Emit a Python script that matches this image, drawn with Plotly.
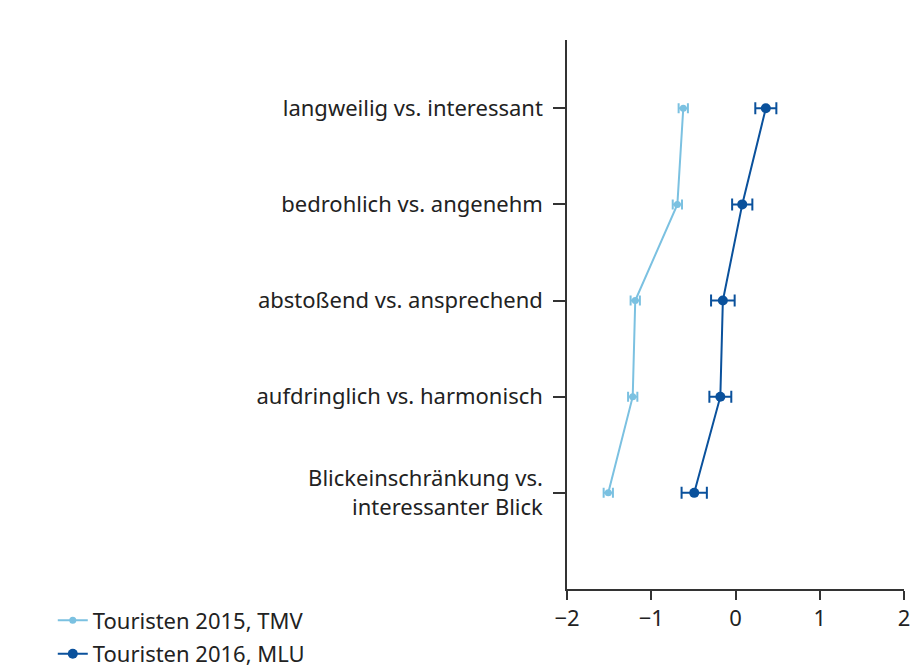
import plotly.graph_objects as go

categories = ["Blickeinschränkung vs.<br>interessanter Blick",
              "aufdringlich vs. harmonisch",
              "abstoßend vs. ansprechend",
              "bedrohlich vs. angenehm",
              "langweilig vs. interessant"]
tmv_2015 = [-1.51, -1.22, -1.19, -0.69, -0.62]
tmv_2015_err = [0.055, 0.055, 0.055, 0.055, 0.055]
mlu_2016 = [-0.49, -0.18, -0.15, 0.08, 0.36]
mlu_2016_err = [0.15, 0.13, 0.14, 0.12, 0.125]
x_ticks = [-2, -1, 0, 1, 2]
x_tick_labels = ["\u22122", "\u22121", "0", "1", "2"]

light = "#7bc1e1"
dark = "#0a519c"

fig = go.Figure()
fig.add_trace(go.Scatter(
    x=tmv_2015, y=categories, mode="lines+markers", name="Touristen 2015, TMV",
    legendgroup="a",
    line=dict(color=light, width=2), marker=dict(color=light, size=7),
    error_x=dict(type="data", array=tmv_2015_err, color=light, thickness=2, width=5),
))
fig.add_trace(go.Scatter(
    x=mlu_2016, y=categories, mode="lines+markers", name="Touristen 2016, MLU",
    legendgroup="b",
    line=dict(color=dark, width=2), marker=dict(color=dark, size=10),
    error_x=dict(type="data", array=mlu_2016_err, color=dark, thickness=2, width=6),
))

fig.update_layout(
    width=910, height=669,
    margin=dict(l=567, r=6, t=40, b=80, autoexpand=False),
    paper_bgcolor="white", plot_bgcolor="white",
    font=dict(family="Noto Sans", size=22, color="#222222"),
    showlegend=True,
    legend=dict(xref="container", yref="container", x=0.058, y=0.104,
                xanchor="left", yanchor="top",
                font=dict(size=22), tracegroupgap=2,
                bgcolor="rgba(0,0,0,0)"),
    xaxis=dict(range=[-2, 2], tickvals=x_ticks, ticktext=x_tick_labels,
               showgrid=False, zeroline=False, showline=True, linecolor="#333333",
               linewidth=1.5, ticks="outside", ticklen=9, tickcolor="#333333",
               tickwidth=1.5, tickfont=dict(size=22), automargin=False,
               ticklabeloverflow="allow"),
    yaxis=dict(type="category", categoryorder="array", categoryarray=categories,
               range=[-1, 4.71], showgrid=False, zeroline=False, showline=True,
               linecolor="#333333", linewidth=1.5, ticks="outside", ticklen=12,
               tickcolor="#333333", tickwidth=1.5, tickfont=dict(size=22),
               ticklabelstandoff=6, automargin=False),
)

fig.write_html("out.html", config={"displayModeBar": False},
               post_script="document.body.style.margin='0';document.body.style.overflow='hidden';")
